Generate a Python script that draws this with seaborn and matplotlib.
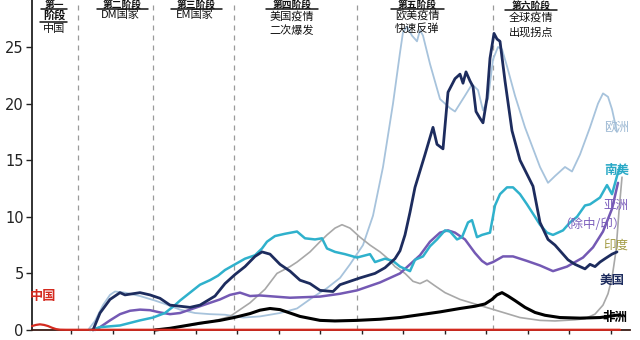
import matplotlib
matplotlib.use("Agg")
import matplotlib.pyplot as plt
import seaborn as sns
import pandas as pd
from matplotlib.lines import Line2D

# ---------------- data (time index t, arbitrary units; value) ----------------
china_t = [0, 4, 8, 12, 16, 20, 24, 28, 34, 588]
china_v = [0.35, 0.45, 0.5, 0.45, 0.35, 0.2, 0.08, 0.03, 0.02, 0.02]

europe_t = [56, 63, 71, 78, 83, 93, 108, 123, 133, 148, 163, 178, 193, 211, 228, 248, 265, 281,
            295, 308, 318, 331, 341, 351, 361, 368, 371, 375, 380, 385, 388, 391, 398, 408, 418,
            423, 433, 440, 446, 451, 456, 461, 466, 470, 475, 483, 493, 508, 516, 523, 533, 540,
            548, 558, 566, 571, 576, 580, 585]
europe_v = [0, 0.8, 2.2, 3.1, 3.4, 3.3, 3.0, 2.6, 2.3, 1.8, 1.5, 1.4, 1.35, 1.1, 1.2, 1.5, 1.9, 2.9,
            3.7, 4.6, 5.8, 7.5, 10.1, 14.4, 20.0, 24.5, 26.3, 26.8, 26.0, 25.5, 26.5, 26.0, 23.5, 20.4, 19.6,
            19.3, 20.7, 21.7, 21.2, 19.4, 20.4, 23.9, 25.0, 24.8, 23.3, 20.7, 17.9, 14.4, 13.0, 13.6, 14.4, 14.0,
            15.5, 17.9, 20.0, 20.9, 20.6, 19.5, 17.5]

samer_t = [58, 68, 88, 108, 121, 133, 143, 148, 158, 168, 178, 186, 193, 203, 213, 223, 230, 235,
           243, 253, 265, 273, 283, 290, 295, 303, 313, 325, 338, 343, 353, 361, 368, 378, 383, 391,
           398, 405, 413, 418, 425, 430, 436, 440, 445, 450, 458, 463, 468, 475, 481, 488, 495, 503,
           508, 515, 521, 531, 538, 545, 553, 558, 568, 575, 580, 585, 588]
samer_v = [0, 0.25, 0.4, 0.85, 1.1, 1.5, 2.2, 2.6, 3.3, 4.0, 4.4, 4.8, 5.3, 5.8, 6.3, 6.6, 7.2, 7.8,
           8.3, 8.5, 8.7, 8.1, 8.0, 8.1, 7.2, 6.9, 6.7, 6.4, 6.7, 6.0, 6.3, 6.1, 5.6, 5.2, 6.2, 6.5,
           7.4, 8.0, 8.8, 8.7, 8.0, 8.2, 9.5, 9.7, 8.2, 8.4, 8.6, 11.0, 12.0, 12.6, 12.6, 12.0, 11.1, 10.0,
           9.3, 8.6, 8.4, 8.8, 9.5, 10.0, 11.0, 11.1, 11.7, 12.8, 12.0, 13.6, 14.4]

asia_t = [63, 68, 78, 88, 98, 108, 118, 128, 138, 148, 158, 168, 178, 188, 198, 208, 218, 228,
          258, 288, 308, 325, 348, 368, 378, 388, 398, 408, 416, 423, 433, 443, 450, 455, 461, 471,
          481, 495, 508, 521, 535, 551, 561, 571, 580, 586]
asia_v = [0, 0.25, 0.85, 1.4, 1.7, 1.8, 1.75, 1.55, 1.4, 1.5, 1.8, 2.1, 2.4, 2.7, 3.1, 3.3, 3.0, 3.05,
          2.85, 2.95, 3.2, 3.5, 4.2, 5.0, 5.8, 6.6, 7.8, 8.6, 8.8, 8.6, 8.0, 6.8, 6.1, 5.8, 6.0, 6.5,
          6.5, 6.1, 5.7, 5.2, 5.6, 6.4, 7.3, 8.7, 10.7, 13.0]

india_t = [118, 138, 158, 178, 198, 218, 233, 245, 258, 265, 278, 288, 295, 303, 310, 318, 328, 338,
           348, 356, 363, 373, 381, 388, 395, 403, 413, 428, 443, 458, 473, 488, 508, 523, 543, 553,
           563, 571, 576, 580, 584, 587, 590]
india_v = [0, 0.15, 0.4, 0.7, 1.2, 2.4, 3.6, 5.0, 5.6, 6.0, 6.9, 7.8, 8.4, 9.0, 9.3, 9.0, 8.2, 7.5,
           6.9, 6.3, 5.6, 5.0, 4.3, 4.1, 4.4, 3.9, 3.3, 2.7, 2.3, 1.9, 1.5, 1.1, 0.85, 0.8, 0.9, 1.0,
           1.4, 2.2, 3.2, 4.6, 7.0, 10.5, 13.5]

us_t = [61, 68, 78, 88, 93, 108, 118, 128, 138, 148, 158, 168, 183, 193, 203, 213, 223, 230, 238,
        248, 258, 268, 278, 288, 301, 308, 318, 328, 343, 353, 363, 368, 373, 378, 383, 393, 401,
        405, 411, 416, 423, 428, 431, 434, 438, 441, 444, 448, 451, 455, 458, 462, 465, 468, 473,
        480, 488, 501, 508, 516, 523, 528, 536, 543, 553, 558, 563, 568, 573, 580, 585]
us_v = [0, 1.5, 2.7, 3.3, 3.1, 3.3, 3.1, 2.8, 2.2, 2.1, 2.0, 2.2, 3.0, 4.1, 4.9, 5.6, 6.5, 6.9, 6.7,
        5.8, 5.2, 4.4, 4.1, 3.5, 3.4, 4.0, 4.3, 4.6, 5.0, 5.5, 6.3, 7.0, 8.4, 10.4, 12.6, 15.5, 17.9,
        16.4, 16.0, 21.0, 22.2, 22.6, 21.8, 22.8, 22.0, 21.5, 19.3, 18.7, 18.3, 20.5, 24.0, 26.2, 25.7, 25.5, 22.0,
        17.6, 15.0, 12.7, 9.5, 8.0, 7.5, 7.0, 6.2, 5.8, 5.4, 5.8, 5.6, 6.0, 6.3, 6.7, 6.9]

africa_t = [123, 138, 148, 158, 168, 188, 202, 218, 228, 238, 248, 258, 268, 288, 303, 325, 348, 368,
            388, 408, 428, 443, 453, 460, 465, 470, 476, 483, 493, 503, 513, 528, 548, 568, 580, 588]
africa_v = [0, 0.15, 0.3, 0.45, 0.6, 0.85, 1.1, 1.45, 1.75, 1.9, 1.8, 1.5, 1.2, 0.85, 0.8, 0.85, 0.95, 1.1,
            1.35, 1.6, 1.9, 2.1, 2.3, 2.7, 3.1, 3.3, 3.0, 2.6, 2.0, 1.55, 1.3, 1.1, 1.05, 1.1, 1.25, 1.35]

phase_bounds = [46, 121, 202, 325, 461]
month_ticks = [39, 81, 122, 164, 205, 247, 288, 330, 371, 413, 454, 496, 537, 579]
y_ticks = [0, 5, 10, 15, 20, 25]

# ---------------- style ----------------
sns.set_theme(style="white")
plt.rcParams['font.family'] = ['Noto Sans CJK SC', 'DejaVu Sans']
plt.rcParams['axes.unicode_minus'] = False

fig = plt.figure(figsize=(6.4, 3.4), dpi=100)
fig.patch.set_facecolor("white")
ax = fig.add_axes([32/640, 10/340, 598/640, 330/340])
ax.set_facecolor("white")

series = [
    ("欧洲", europe_t, europe_v, "#a7c3dc", 1.3, 2),
    ("印度", india_t, india_v, "#a8a8a8", 1.2, 2),
    ("亚洲（除中/印）", asia_t, asia_v, "#7459b4", 1.8, 3),
    ("南美", samer_t, samer_v, "#2fb1cc", 1.8, 3),
    ("美国", us_t, us_v, "#1d2c5e", 2.0, 4),
    ("非洲", africa_t, africa_v, "#000000", 2.2, 5),
    ("中国", china_t, china_v, "#d42a1f", 1.6, 6),
]
for name, t, v, c, lw, z in series:
    df = pd.DataFrame({"t": t, "v": v})
    sns.lineplot(data=df, x="t", y="v", color=c, linewidth=lw, ax=ax, zorder=z,
                 clip_on=False)

for b in phase_bounds:
    ax.axvline(b, color="#9a9a9a", lw=0.9, ls=(0, (4, 4)), zorder=1)

ax.set_xlim(0, 598)
ax.set_ylim(0, 29.15)
ax.set_xticks(month_ticks)
ax.set_xticklabels([])
ax.set_yticks(y_ticks)
ax.set_yticklabels([str(y) for y in y_ticks], fontsize=10.5, color="#222222", family="DejaVu Sans")
ax.tick_params(axis="y", direction="out", length=4, width=1, color="#222222", left=True, pad=2)
ax.tick_params(axis="x", direction="out", length=3, width=1, color="#222222", bottom=True)
ax.set_xlabel("")
ax.set_ylabel("")
for s in ["top", "right"]:
    ax.spines[s].set_visible(False)
ax.spines["left"].set_color("#222222")
ax.spines["left"].set_linewidth(1.3)
ax.spines["bottom"].set_color("#3a1a14")
ax.spines["bottom"].set_linewidth(1.3)


def ft(px, py, s, **kw):
    fig.text(px / 640, 1 - py / 340, s, transform=fig.transFigure, **kw)


def uline(x0, x1, py):
    fig.add_artist(Line2D([x0 / 640, x1 / 640], [1 - py / 340, 1 - py / 340],
                          transform=fig.transFigure, color="#111111", lw=1.1))


hdr = dict(fontsize=7, fontweight="bold", ha="center", va="top", color="#111111")
txt = dict(fontsize=8, ha="center", va="center", color="#111111")

# phase 1
ft(54, 0, "第一", **hdr)
uline(41, 67, 8.5)
ft(54, 15, "阶段", fontsize=8, fontweight="bold", ha="center", va="center", color="#111111")
uline(40, 67, 22)
ft(54, 29, "中国", **txt)
# phase 2
ft(122, 0, "第二阶段", **hdr)
uline(97, 148, 8.5)
ft(120, 15, "DM国家", **txt)
# phase 3
ft(196, 0, "第三阶段", **hdr)
uline(171, 222, 8.5)
ft(195, 15, "EM国家", **txt)
# phase 4
ft(292, 0, "第四阶段", **hdr)
uline(266, 318, 8.5)
ft(292, 16, "美国疫情", **txt)
ft(292, 31, "二次爆发", **txt)
# phase 5
ft(417, 0, "第五阶段", **hdr)
uline(391, 444, 8.5)
ft(417, 15, "欧美疫情", **txt)
ft(417, 28, "快速反弹", **txt)
# phase 6
ft(531, 1, "第六阶段", **hdr)
uline(505, 557, 10)
ft(531, 17, "全球疫情", **txt)
ft(531, 33, "出现拐点", **txt)

# series labels
lab = dict(fontsize=9, ha="right", va="center")
ft(629, 128, "欧洲", color="#9fbad4", **lab)
ft(629, 170, "南美", color="#2aa9c6", fontweight="bold", **lab)
ft(628, 205, "亚洲", color="#7c5fbc", **lab)
ft(626, 225, "（除中/印）", color="#7c5fbc", **lab)
ft(628, 245, "印度", color="#a39c45", **lab)
ft(625, 280, "美国", color="#1d2c5e", fontweight="bold", **lab)
ft(627, 317, "非洲", color="#000000", fontweight="bold", **lab)
ft(30, 296, "中国", color="#d42a1f", fontweight="bold", fontsize=9.5, ha="left", va="center")

fig.savefig("out.png", dpi=100, facecolor="white")
